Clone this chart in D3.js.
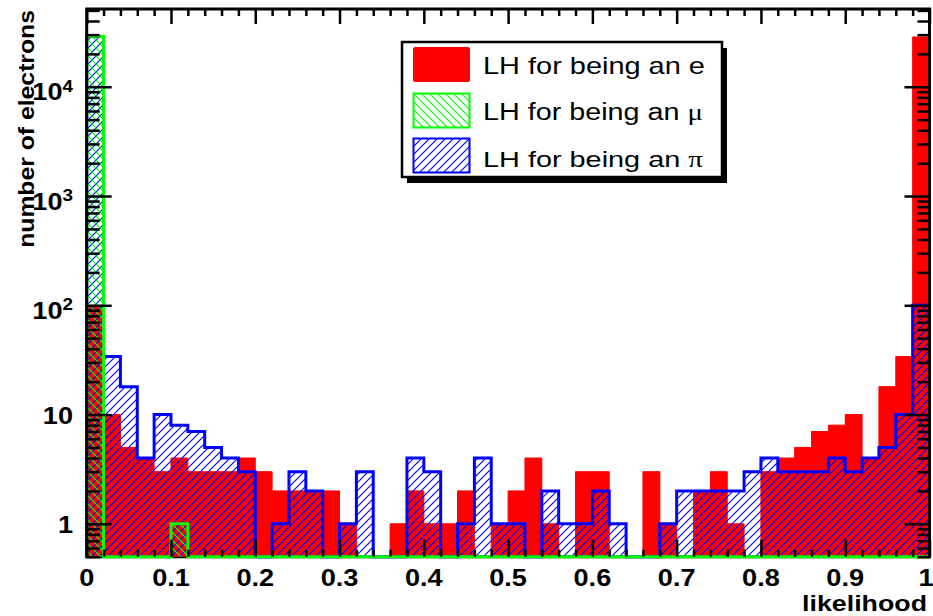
<!DOCTYPE html>
<html><head><meta charset="utf-8">
<script src="https://cdn.jsdelivr.net/npm/d3@7"></script>
<style>body{margin:0;background:#fff;} svg{display:block;}</style>
</head><body>
<svg id="c" width="933" height="616"></svg>
<script>
// ---- data ----
const binEdges = [0,0.02,0.04,0.06,0.08,0.1,0.12,0.14,0.16,0.18,0.2,0.22,0.24,0.26,0.28,0.3,0.32,0.34,0.36,0.38,0.4,
  0.42,0.44,0.46,0.48,0.5,0.52,0.54,0.56,0.58,0.6,0.62,0.64,0.66,0.68,0.7,0.72,0.74,0.76,0.78,0.8,
  0.82,0.84,0.86,0.88,0.9,0.92,0.94,0.96,0.98,1];
const electronLH = [100,10,5,4,3,4,3,3,3,4, 3,2,2,2,2,1,0,0,1,2, 1,1,2,0,1,2,4,1,0,3, 3,0,0,3,1,0,2,3,1,0, 3,4,5,7,8,10,4,18,34,28600];
const muonLH     = [29000,0,0,0,0,1,0,0,0,0, 0,0,0,0,0,0,0,0,0,0, 0,0,0,0,0,0,0,0,0,0, 0,0,0,0,0,0,0,0,0,0, 0,0,0,0,0,0,0,0,0,0];
const pionLH     = [28800,34,18,4,10,8,7,5,4,3, 0,1,3,2,0,1,3,0,0,4, 3,0,1,4,1,1,0,2,1,1, 2,1,0,0,1,2,2,2,2,3, 4,3,3,3,4,3,4,5,10,100];
const xTickValues = [0,0.1,0.2,0.3,0.4,0.5,0.6,0.7,0.8,0.9,1];
const xTickLabels = ["0","0.1","0.2","0.3","0.4","0.5","0.6","0.7","0.8","0.9","1"];
const yTickValues = [1,10,100,1000,10000];
const yTickBase = ["1","10","10","10","10"];
const yTickExp  = ["","","2","3","4"];
const legendText = ["LH for being an ","LH for being an ","LH for being an "];
const legendSym  = ["e","\u03bc","\u03c0"];
const xTitle = "likelihood";
const yTitle = "number of electrons";

// ---- layout ----
const frame = {l:86.7, r:929.5, t:9, b:556.7};
const svg = d3.select('#c');
const x = d3.scaleLinear().domain([0,1]).range([frame.l, frame.r]);
const y = d3.scaleLog().domain([0.5, 51500]).range([frame.b, frame.t]);
const SANS = "'Liberation Sans', Arial, Helvetica, sans-serif";
const SERIF = "'Liberation Serif', 'DejaVu Serif', serif";

const defs = svg.append('defs');
function hatch(id, color, dir, sw){
  const p = defs.append('pattern').attr('id',id).attr('patternUnits','userSpaceOnUse')
    .attr('width',8).attr('height',8);
  const d = dir==='/' ? 'M-1,1 L1,-1 M0,8 L8,0 M7,9 L9,7' : 'M0,0 L8,8 M-1,7 L1,9 M7,-1 L9,1';
  p.append('path').attr('d',d).style('stroke',color).style('stroke-width',sw).style('fill','none');
}
hatch('hBlue','rgb(0,0,255)','/',1.15);
hatch('hGreen','rgb(0,255,0)','\\',1.2);
defs.append('clipPath').attr('id','clipF').append('rect')
  .attr('x',frame.l-2).attr('y',frame.t).attr('width',frame.r-frame.l+4).attr('height',frame.b-frame.t+3);

// bottom frame line (under histograms)
svg.append('line').attr('x1',frame.l).attr('x2',frame.r).attr('y1',frame.b).attr('y2',frame.b)
  .attr('stroke','#000').attr('stroke-width',3);

function stepPath(vals){
  const pts=[[x(binEdges[0]), frame.b]];
  vals.forEach((v,i)=>{
    const yy = v>0 ? y(v) : frame.b;
    pts.push([x(binEdges[i]), yy]); pts.push([x(binEdges[i+1]), yy]);
  });
  pts.push([x(binEdges[binEdges.length-1]), frame.b]);
  return d3.line()(pts);
}
const hg = svg.append('g').attr('clip-path','url(#clipF)');
hg.append('path').attr('d',stepPath(electronLH)).attr('fill','#ff0000').attr('stroke','#ff0000').attr('stroke-width',1);
hg.append('path').attr('d',stepPath(pionLH)).attr('fill','url(#hBlue)').attr('stroke','#0000ff').attr('stroke-width',3).attr('stroke-linejoin','miter');
hg.append('path').attr('d',stepPath(muonLH)).attr('fill','url(#hGreen)').attr('stroke','#00ff00').attr('stroke-width',3).attr('stroke-linejoin','miter');

// frame left/top/right
svg.append('path').attr('d',`M${frame.l},${frame.b+1.5} L${frame.l},${frame.t} L${frame.r},${frame.t} L${frame.r},${frame.b+1.5}`)
  .attr('fill','none').attr('stroke','#000').attr('stroke-width',3);

// ticks
const minorX = binEdges.filter(v => xTickValues.indexOf(v) < 0);
const minorY = [];
[0.1,1,10,100,1000,10000].forEach(d=>{ for(let k=2;k<=9;k++){ const v=k*d; if(v>=0.5 && v<=51500) minorY.push(v);} });
function styleAxis(g){ g.select('.domain').remove(); g.selectAll('line').attr('stroke','#000').attr('stroke-width',2.5); g.selectAll('text').remove(); }
svg.append('g').attr('transform',`translate(0,${frame.b})`).call(d3.axisBottom(x).tickValues(xTickValues).tickSize(-17).tickFormat('')).call(styleAxis);
svg.append('g').attr('transform',`translate(0,${frame.b})`).call(d3.axisBottom(x).tickValues(minorX).tickSize(-7).tickFormat('')).call(styleAxis);
svg.append('g').attr('transform',`translate(0,${frame.t})`).call(d3.axisTop(x).tickValues(xTickValues).tickSize(-15).tickFormat('')).call(styleAxis);
svg.append('g').attr('transform',`translate(0,${frame.t})`).call(d3.axisTop(x).tickValues(minorX).tickSize(-7).tickFormat('')).call(styleAxis);
svg.append('g').attr('transform',`translate(${frame.l},0)`).call(d3.axisLeft(y).tickValues(yTickValues).tickSize(-25).tickFormat('')).call(styleAxis);
svg.append('g').attr('transform',`translate(${frame.l},0)`).call(d3.axisLeft(y).tickValues(minorY).tickSize(-13).tickFormat('')).call(styleAxis);
svg.append('g').attr('transform',`translate(${frame.r},0)`).call(d3.axisRight(y).tickValues(yTickValues).tickSize(-25).tickFormat('')).call(styleAxis);
svg.append('g').attr('transform',`translate(${frame.r},0)`).call(d3.axisRight(y).tickValues(minorY).tickSize(-12).tickFormat('')).call(styleAxis);

// x tick labels
const SX = 1.18;
xTickValues.forEach((v,i)=>{
  const cx = Math.min(x(v), 926);
  svg.append('g').attr('transform',`translate(${cx},586) scale(${SX},1)`)
    .append('text').attr('text-anchor','middle').attr('font-family',SANS).attr('font-weight','bold')
    .attr('font-size',23).attr('fill','#000').text(xTickLabels[i]);
});
// y tick labels
yTickValues.forEach((v,i)=>{
  const g = svg.append('g').attr('transform',`translate(73,${y(v)}) scale(${SX},1)`);
  const t = g.append('text').attr('text-anchor','end').attr('font-family',SANS).attr('font-weight','bold')
    .attr('font-size',23).attr('fill','#000');
  if(yTickExp[i]){
    t.attr('y',13.5);
    t.append('tspan').text(yTickBase[i]);
    t.append('tspan').attr('font-size',16).attr('dy',-8.5).text(yTickExp[i]);
  } else {
    t.attr('y',9.5).text(yTickBase[i]);
  }
});

function fitText(txt, target){
  const w = txt.node().getComputedTextLength();
  return target / w;
}
// axis titles
{
  const g = svg.append('g');
  const t = g.append('text').attr('text-anchor','end').attr('font-family',SANS).attr('font-weight','bold')
    .attr('font-size',22).attr('fill','#000').text(xTitle);
  const s = fitText(t,125);
  g.attr('transform',`translate(927,611) scale(${s},1)`);
}
{
  const g = svg.append('g');
  const t = g.append('text').attr('text-anchor','end').attr('font-family',SANS).attr('font-weight','bold')
    .attr('font-size',22.5).attr('fill','#000').text(yTitle);
  const s = fitText(t,238);
  g.attr('transform',`translate(33.5,10) rotate(-90) scale(${s},1)`);
}

// legend
const L = {x:402, y:42, w:320, h:135};
svg.append('rect').attr('x',L.x+5).attr('y',L.y+6).attr('width',L.w).attr('height',L.h).attr('fill','#000');
svg.append('rect').attr('x',L.x).attr('y',L.y).attr('width',L.w).attr('height',L.h)
  .attr('fill','#fff').attr('stroke','#000').attr('stroke-width',2.5);
const rowsY = [47.5, 93.5, 138.5];
const baseY = [73.5, 120, 166.5];
const ends = [705, 703, 703];
const swFill = ['#ff0000','url(#hGreen)','url(#hBlue)'];
const swStroke = ['#ff0000','#00ff00','#0000ff'];
legendText.forEach((lt,i)=>{
  svg.append('rect').attr('x',413.5).attr('y',rowsY[i]).attr('width',56).attr('height',34)
    .attr('fill',swFill[i]).attr('stroke',swStroke[i]).attr('stroke-width',i===0?1:2).attr('rx',i===0?1.5:0);
  const g = svg.append('g');
  const t = g.append('text').attr('font-family',SANS).attr('font-size',23).attr('fill','#000');
  t.append('tspan').text(lt);
  t.append('tspan').attr('font-family', i===0?SANS:SERIF).text(legendSym[i]);
  const s = fitText(t,ends[i]-483);
  g.attr('transform',`translate(483,${baseY[i]}) scale(${s},1)`);
});
</script>
</body></html>
